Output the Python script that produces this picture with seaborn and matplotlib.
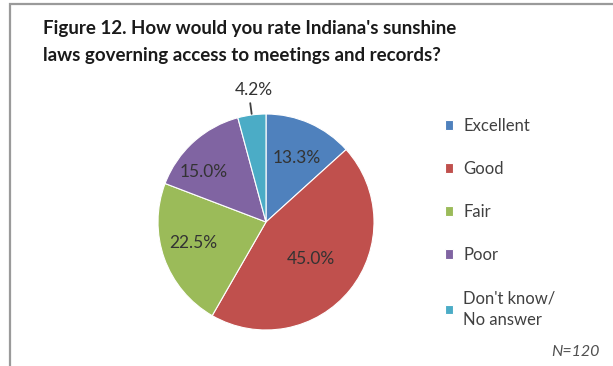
import numpy as np
import matplotlib
matplotlib.use("Agg")
import matplotlib.pyplot as plt
from matplotlib.patches import Rectangle
from matplotlib.lines import Line2D
import seaborn as sns

# Survey responses (N=120), percent of respondents
categories = ["Excellent", "Good", "Fair", "Poor", "Don't know/\nNo answer"]
shares = [13.3, 45.0, 22.5, 15.0, 4.2]
colors = ["#4F81BD", "#C0504D", "#9BBB59", "#8064A2", "#4BACC6"]
title = "Figure 12. How would you rate Indiana's sunshine\nlaws governing access to meetings and records?"
note = "N=120"

sns.set_theme(style="white")
plt.rcParams["font.family"] = ["Lato", "DejaVu Sans"]

W, H = 613, 366
fig = plt.figure(figsize=(W / 100, H / 100), dpi=100)
fig.patch.set_facecolor("white")

# square axes holding the pie (radius 1 in data units)
cx, cy, R = 266, 222, 108
ax = fig.add_axes([(cx - R) / W, (H - cy - R) / H, 2 * R / W, 2 * R / H])
wedges, _ = ax.pie(shares, colors=colors, startangle=90, counterclock=False,
                   radius=1.0, wedgeprops=dict(edgecolor="white", linewidth=0.8))
ax.set_xlim(-1, 1)
ax.set_ylim(-1, 1)
ax.set_aspect("equal")
ax.axis("off")

# label placement: (radial distance, angular nudge in degrees)
label_layout = [(0.66, -2), (0.54, 0), (0.70, -3.5), (0.74, 9.5), (1.23, -2.4)]
for w, val, (r, nudge) in zip(wedges, shares, label_layout):
    mid = np.deg2rad((w.theta1 + w.theta2) / 2 + nudge)
    ax.text(r * np.cos(mid), r * np.sin(mid), f"{val:.1f}%", ha="center", va="center",
            fontsize=12.5, color="#333333")
    if r > 1:
        a = np.deg2rad((w.theta1 + w.theta2) / 2)
        ax.add_line(Line2D([1.01 * np.cos(a), 1.11 * np.cos(a)],
                           [1.01 * np.sin(a), 1.11 * np.sin(a)],
                           color="#404040", linewidth=1.3, clip_on=False))

fig.text(43 / W, 1 - 20 / H, title, ha="left", va="top", fontsize=13.5,
         fontweight="bold", color="#1a1a1a", linespacing=1.72)

leg = fig.legend(wedges, categories, loc="upper left",
                 bbox_to_anchor=(445 / W, 1 - 118 / H), frameon=False,
                 fontsize=12, labelcolor="#404040", handlelength=0.5,
                 handleheight=0.5, handletextpad=0.6, labelspacing=1.62,
                 borderaxespad=0, borderpad=0)
for t in leg.get_texts():
    t.set_linespacing(1.45)

fig.text(600 / W, 1 - 352 / H, note, ha="right", va="center", fontsize=11.5,
         style="italic", color="#505050")

# chart frame (top and left edges visible)
fig.add_artist(Rectangle((9.5 / W, -0.2), 1.2, 1 + 0.2 - 3.5 / H,
                         transform=fig.transFigure, fill=False,
                         edgecolor="#9a9a9a", linewidth=1.6))

fig.savefig("out.png", dpi=100)
